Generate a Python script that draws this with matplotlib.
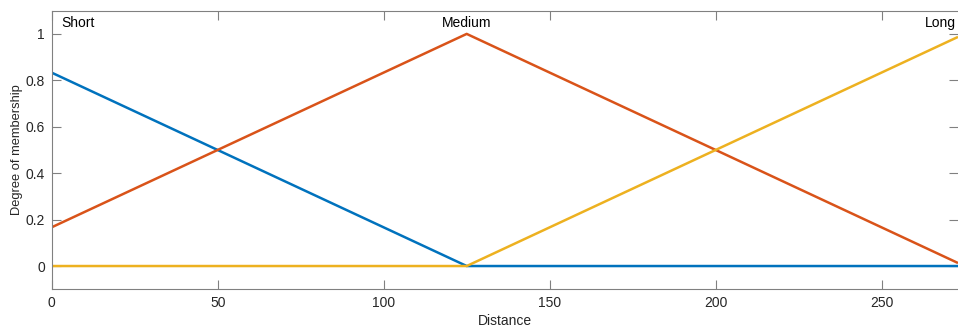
import matplotlib.pyplot as plt

plt.rcParams['font.family'] = ['Liberation Sans', 'DejaVu Sans']

# breakpoints
distance = [0, 125, 200, 273]
short = [0.833, 0, 0, 0]
medium = [0.167, 1, 0.5, 0.013]
long_ = [0, 0, 0.5, 0.987]

mf_names = ['Short', 'Medium', 'Long']
colors = ['#0072BD', '#D95319', '#EDB120']
edge = '#808080'
txt = '#262626'

fig = plt.figure(figsize=(9.58, 3.34), dpi=100)
ax = fig.add_axes([0.054, 0.134, 0.946, 0.834])

for ys, c in zip([short, medium, long_], colors):
    ax.plot(distance, ys, color=c, linewidth=1.8, solid_capstyle='butt')

ax.set_xlim(0, 273)
ax.set_ylim(-0.1, 1.1)
ax.set_xticks([0, 50, 100, 150, 200, 250])
ax.set_yticks([0, 0.2, 0.4, 0.6, 0.8, 1])
ax.set_yticklabels(['0', '0.2', '0.4', '0.6', '0.8', '1'])

ax.tick_params(direction='in', length=6.5, width=0.8, color=edge,
               labelcolor=txt, labelsize=10, top=True, right=True, pad=5)
for s in ax.spines.values():
    s.set_color(edge)
    s.set_linewidth(0.8)
ax.spines['right'].set_visible(False)

ax.set_xlabel('Distance', fontsize=10, color=txt, labelpad=3)
ax.set_ylabel('Degree of membership', fontsize=9.3, color=txt, labelpad=2)

ax.text(3, 1.045, mf_names[0], fontsize=10, color='black', ha='left', va='center')
ax.text(125, 1.045, mf_names[1], fontsize=10, color='black', ha='center', va='center')
ax.text(272.5, 1.045, mf_names[2], fontsize=10, color='black', ha='right', va='center')

fig.savefig('out.png', dpi=100)
